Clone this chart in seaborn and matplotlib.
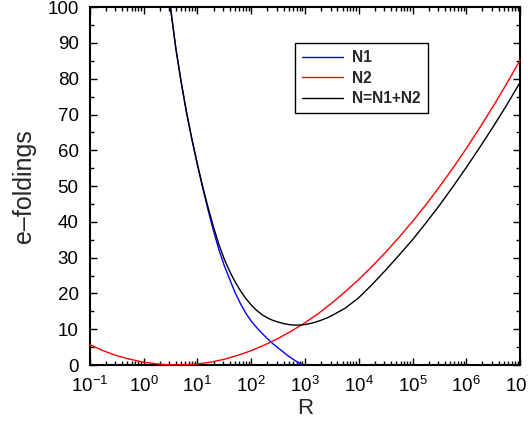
import numpy as np
import pandas as pd
import matplotlib
matplotlib.use("Agg")
import matplotlib.pyplot as plt
import seaborn as sns
from matplotlib.ticker import LogLocator, MultipleLocator

# ------------------------------------------------------------
# data (x given as log10 R)
# ------------------------------------------------------------
logR_n1 = [0.50, 0.60, 0.70, 0.80, 0.90, 1.00, 1.10, 1.20, 1.30, 1.40, 1.50,
           1.60, 1.70, 1.80, 1.90, 2.00, 2.10, 2.20, 2.30, 2.40, 2.50, 2.60,
           2.70, 2.80, 2.90, 2.95]
n1 = [100, 88.5, 79, 70.5, 63, 56, 49.5, 43.3, 37.5, 32.3, 27.8,
      24, 20.3, 17.2, 14.5, 12.3, 10.5, 8.9, 7.4, 6.0, 4.8, 3.6,
      2.4, 1.4, 0.5, 0]

logR_n2 = [-1.0, -0.75, -0.5, -0.25, 0.0, 0.25, 0.5, 0.75, 1.0, 1.25, 1.5, 1.75,
           2.0, 2.25, 2.5, 2.75, 3.0, 3.25, 3.5, 3.75, 4.0, 4.25, 4.5, 4.75,
           5.0, 5.25, 5.5, 5.75, 6.0, 6.25, 6.5, 6.75, 7.0]
n2 = [5.7, 4.0, 2.6, 1.6, 0.8, 0.3, 0.03, 0.04, 0.3, 0.8, 1.6, 2.7,
      4.0, 5.6, 7.4, 9.5, 11.8, 14.4, 17.3, 20.5, 23.9, 27.6, 31.5, 35.7,
      40.1, 44.8, 49.8, 55.0, 60.5, 66.3, 72.3, 78.6, 85.2]

logR_n = [0.50, 0.60, 0.70, 0.80, 0.90, 1.00, 1.10, 1.20, 1.30, 1.40, 1.50,
          1.60, 1.70, 1.80, 1.90, 2.00, 2.10, 2.20, 2.30, 2.40, 2.50, 2.60,
          2.70, 2.80, 2.90, 3.00, 3.10, 3.20, 3.30, 3.40, 3.50, 3.75, 4.00,
          4.25, 4.50, 4.75, 5.00, 5.25, 5.50, 5.75, 6.00, 6.25, 6.50, 6.75, 7.00]
n_tot = [100, 88.5, 79, 70.5, 63, 56.2, 49.8, 44.0, 38.6, 33.7, 29.6,
         26.2, 23.3, 20.8, 18.6, 16.8, 15.3, 14.1, 13.2, 12.5, 12.0, 11.6,
         11.3, 11.15, 11.15, 11.3, 11.6, 12.0, 12.5, 13.1, 13.8, 15.9, 18.8,
         22.5, 26.5, 30.7, 35.0, 39.7, 44.6, 49.8, 55.2, 60.8, 66.6, 72.6, 79.0]

df = pd.concat([
    pd.DataFrame({"R": 10.0 ** np.array(logR_n1), "val": n1, "curve": "N1"}),
    pd.DataFrame({"R": 10.0 ** np.array(logR_n2), "val": n2, "curve": "N2"}),
    pd.DataFrame({"R": 10.0 ** np.array(logR_n), "val": n_tot, "curve": "N=N1+N2"}),
])

sns.set_style("ticks")
plt.rcParams["font.family"] = ["Liberation Sans", "DejaVu Sans"]
plt.rcParams["mathtext.default"] = "regular"

fig = plt.figure(figsize=(5.28, 4.21), dpi=100)
ax = fig.add_axes([0.170, 0.133, 0.815, 0.850])

cores = {"N1": "#0000ff", "N2": "#ff0000", "N=N1+N2": "#000000"}
sns.lineplot(data=df, x="R", y="val", hue="curve", palette=cores,
             sort=False, estimator=None, linewidth=1.0, ax=ax)
for ln in ax.lines:
    ln.set_clip_on(False)
    ln.set_zorder(3)

ax.set_xscale("log")
ax.set_xlim(0.1, 1e7)
ax.set_ylim(0, 100)
ax.xaxis.set_major_locator(LogLocator(base=10, numticks=20))
ax.xaxis.set_minor_locator(LogLocator(base=10, subs=np.arange(2, 10), numticks=100))
ax.yaxis.set_major_locator(MultipleLocator(10))
ax.yaxis.set_minor_locator(MultipleLocator(5))

ax.tick_params(which="both", direction="in", top=True, right=True,
               labelsize=13.5, colors="black", width=1.0)
ax.tick_params(which="major", length=5, pad=8)
ax.tick_params(which="minor", length=3)
for s in ax.spines.values():
    s.set_linewidth(1.5)
    s.set_color("black")
    s.set_zorder(2)

ax.set_xlabel("R", fontsize=16, labelpad=1)
ax.set_ylabel("e\u2013foldings", fontsize=18, labelpad=8)

leg = ax.legend(loc="upper left", bbox_to_anchor=(0.478, 0.899), borderaxespad=0,
                fancybox=False, edgecolor="black", framealpha=1,
                prop={"weight": "bold", "size": 11.2},
                handlelength=2.6, handletextpad=0.6, borderpad=0.45, labelspacing=0.35)
leg.get_frame().set_linewidth(1.0)

plt.savefig("out.png", dpi=100)
